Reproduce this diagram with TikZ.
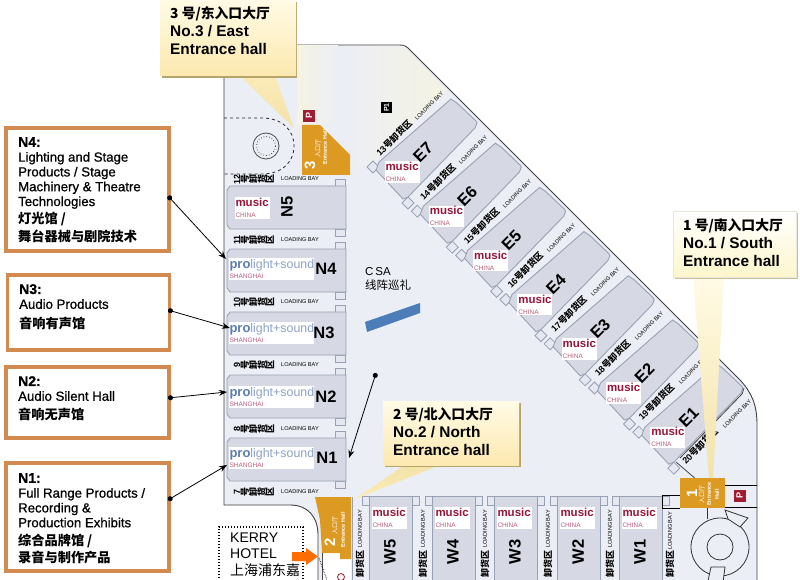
\documentclass[tikz,border=0pt]{standalone}
\usepackage{fontspec}
\setmainfont{Liberation Sans}
\newfontfamily\cjk{Noto Sans CJK SC}
\newfontfamily\boxfont{Liberation Sans}[FakeBold=0.8]
\usetikzlibrary{arrows.meta}

\definecolor{floorgrey}{HTML}{ECEEF5}
\definecolor{floorsun}{HTML}{F5F3E3}
\definecolor{hallgrey}{HTML}{D6D9E4}
\definecolor{halledge}{HTML}{98A1B3}
\definecolor{gateorange}{HTML}{DC9A22}
\definecolor{boxorange}{HTML}{D28A50}
\definecolor{parkred}{HTML}{A01C30}
\definecolor{musicred}{HTML}{96163A}
\definecolor{chinapink}{HTML}{B85C7C}
\definecolor{problue}{HTML}{5C7DB2}
\definecolor{lightblue}{HTML}{8CA2C6}
\definecolor{barblue}{HTML}{4C7DB8}
\definecolor{calltop}{HTML}{FFFBE6}
\definecolor{callbottom}{HTML}{FDE9B0}
\definecolor{callpale}{HTML}{FDF6CC}
\definecolor{callshadow}{HTML}{B5A56A}
\definecolor{tailtop}{HTML}{FBEBB8}
\definecolor{tailbottom}{HTML}{F3E2A8}

\newcommand{\musiclabel}{{\color{musicred}\bfseries\fontsize{11.5}{11}\selectfont music}\\[-1pt]{\color{chinapink}\fontsize{6.5}{7}\selectfont CHINA}}
\newcommand{\prolabel}{{\color{problue}\bfseries\fontsize{13}{13}\selectfont pro}{\color{lightblue}\fontsize{12.4}{13}\selectfont light+sound}\\[-2pt]{\color{chinapink}\fontsize{6.5}{7}\selectfont SHANGHAI}}
\newcommand{\sideways}[1]{\rotatebox[origin=c]{90}{#1}}
\newcommand{\bayrow}[1]{\sideways{#1}\hspace{0.5pt}\sideways{\cjk 号}\sideways{\cjk 卸}\sideways{\cjk 货}\sideways{\cjk 区}}
\newcommand{\callhead}[1]{{\fontsize{13.8}{18}\selectfont\cjk\bfseries #1}}

\tikzset{
	hallbody/.style = {fill=hallgrey, draw=halledge, line width=0.9pt},
	hallnotch/.style = {fill=floorgrey!70!hallgrey, draw=halledge, line width=0.8pt},
	halllabel/.style = {font=\bfseries\fontsize{16.5}{16.5}\selectfont, inner sep=0pt},
	musictag/.style = {fill=white, align=left, text width=33pt, inner sep=1pt},
	protag/.style = {fill=white, align=left, text width=83pt, inner sep=1pt},
	baytext/.style = {font=\bfseries\fontsize{9}{9}\selectfont, inner sep=0pt},
	bayenglish/.style = {font=\fontsize{5.6}{6}\selectfont, inner sep=0pt},
	gatetext/.style = {text=white, rotate=90, inner sep=0pt, font=\fontsize{6}{6}\selectfont},
	topicbox/.style = {draw=boxorange, line width=3.4pt, fill=white, inner sep=0pt},
	topictext/.style = {anchor=north west, align=left, inner sep=0pt, font=\boxfont\fontsize{13.2}{14.8}\selectfont},
	callouttext/.style = {anchor=north west, align=left, inner sep=0pt, font=\bfseries\fontsize{15.4}{18}\selectfont},
	linkline/.style = {line width=0.8pt, {Circle[length=5pt]}-{Stealth[length=8pt,width=6pt]}},
	parkbox/.style = {fill=parkred, text=white, inner sep=0pt, minimum size=12pt, rotate=90, font=\bfseries\fontsize{9}{9}\selectfont}
}

\begin{document}
\begin{tikzpicture}[x=1pt,y=-1pt]
	\useasboundingbox (0,0) rectangle (800,580);
	\clip (0,0) rectangle (800,580);
	\fill[white] (0,0) rectangle (800,580);
	
	% floor
	\draw[fill=floorgrey, draw=black!75, line width=0.9pt] (224,45) -- (400,45) .. controls (405,45) and (407,47) .. (410,50) -- (740,380) .. controls (752,393) and (757,405) .. (757,425) -- (757,590) -- (318,590) -- (318,535) .. controls (318,517) and (308,505) .. (290,505) -- (224,505) -- cycle;
	\shade[left color=floorgrey, right color=floorsun] (345,170) -- (345,46) -- (404,46) -- (446,90) -- (372,165) -- cycle;
	\shade[left color=floorsun, right color=floorgrey] (297,46) -- (338,46) -- (338,125) -- (297,125) -- cycle;
	
	% north halls
	\foreach \yy/\hall in {186/N5,249/N4,312/N3,375/N2,438/N1}{
		\draw[hallnotch] (335,\yy-7) rectangle (345,\yy);
		\draw[hallnotch] (335,\yy+43) rectangle (345,\yy+50);
		\draw[hallbody] (230,\yy) -- (227,\yy+4) -- (227,\yy+39) -- (230,\yy+43) -- (346,\yy+43) -- (346,\yy) -- cycle;
	}
	\node[musictag] (musicN5) at (252,208) {\musiclabel};
	\node[halllabel, rotate=90] (labelN5) at (287,207) {N5};
	\foreach \yy/\hall/\xx in {269/N4/326,333/N3/324,397/N2/326,458/N1/327}{
		\node[protag] (pro\hall) at (271,\yy) {\prolabel};
		\node[halllabel] (label\hall) at (\xx,\yy) {\hall};
	}
	\foreach \yy/\bay in {179/12,240/11,302/10,365/9,429/8,492/7}{
		\node[baytext] (row\bay) at (254,\yy) {\bayrow{\bay}};
		\node[bayenglish, anchor=west] (load\bay) at (281,\yy) {LOADING BAY};
	}
	
	% east halls
	\foreach \nn/\hall in {0/E7,1/E6,2/E5,3/E4,4/E3,5/E2,6/E1}{
		\begin{scope}[shift={({44.3*\nn},{44.2*\nn})}]
			\draw[hallnotch] (373,161) -- (379,167) -- (373,173) -- (367,167) -- cycle;
			\draw[hallnotch] (408,197) -- (414,203) -- (408,209) -- (402,203) -- cycle;
			\draw[hallbody] (376,170) -- (403,199) -- (408,197) -- (475,128) -- (477,123) -- (476,121) -- (457,103) -- (451,99) -- (379,162) -- cycle;
			\node[musictag] (music\hall) at (402,172) {\musiclabel};
			\node[halllabel, rotate=45] (label\hall) at (423,152) {\hall};
		\end{scope}
	}
	\foreach \nn [evaluate=\nn as \bay using int(13+\nn)] in {0,...,7}{
		\node[baytext, rotate=45] (row\bay) at ({394+43.7*\nn},{138+44*\nn}) {\bay{\cjk\bfseries 号卸货区}};
		\node[bayenglish, rotate=45] (load\bay) at ({429+44*\nn},{106+44*\nn}) {LOADING BAY};
	}
	\draw[black!75, line width=0.8pt] (676,462) -- (697,480);
	\draw[black!75, line width=0.8pt] (680,458) -- (742,394) -- (744,388);
	
	% west halls
	\foreach \xx/\hall in {369/W5,432/W4,494/W3,557/W2,619/W1}{
		\draw[hallnotch] (\xx-7,496) rectangle (\xx,505);
		\draw[hallnotch] (\xx+43,496) rectangle (\xx+50,505);
		\draw[hallbody] (\xx,496) rectangle (\xx+43,590);
		\node[musictag, text width=33pt] (music\hall) at (\xx+20,518) {\musiclabel};
		\node[halllabel, rotate=90] (label\hall) at (\xx+21,552) {\hall};
		\node[bayenglish, rotate=90] (load\hall) at (\xx-9,529) {LOADING BAY};
		\node[baytext, rotate=90] (row\hall) at (\xx-9,564) {\cjk\bfseries 卸货区};
	}
	\node[bayenglish, rotate=90] (loadlast) at (670,531) {LOADING BAY};
	\node[baytext, rotate=90] (rowlast) at (670,564) {\cjk\bfseries 卸货区};
	\draw[halledge, line width=0.9pt] (352,497) -- (352,590);
	
	% csa
	\fill[barblue] (365,322) -- (420,303) -- (420,313) -- (367,332) -- cycle;
	\node[anchor=west, inner sep=0pt, font=\fontsize{11.5}{11}\selectfont] (csaname) at (365,272) {C\,SA};
	\node[anchor=west, inner sep=0pt, font=\cjk\fontsize{11.5}{11}\selectfont] (csatext) at (365,285) {线阵巡礼};
	
	% east entrance
	\draw[black!85, dashed, line width=0.8pt] (224,118) -- (262,118) .. controls (282,118) and (294,130) .. (294,146) .. controls (294,162) and (282,174) .. (262,174) -- (224,174);
	\draw[black!70, fill=floorgrey, line width=0.8pt] (266,146) circle (13);
	\draw[black!70, dotted, line width=0.8pt] (266,146) circle (9.5);
	\fill[gateorange] (302,125) -- (320,125) -- (350,155) -- (350,175) -- (302,175) -- cycle;
	\node[gatetext, font=\bfseries\fontsize{15}{15}\selectfont] (gate3num) at (310,165) {3};
	\node[gatetext] (gate3cn) at (318,149) {\cjk 入口厅};
	\node[gatetext, font=\bfseries\fontsize{5.5}{6}\selectfont] (gate3en) at (325,147) {Entrance Hall};
	\node[parkbox] (park3) at (309,116) {P};
	\node[parkbox, fill=black, minimum size=11.5pt, font=\bfseries\fontsize{7}{7}\selectfont] (parkone) at (386.5,107.5) {P1};
	
	% north entrance
	\fill[white] (322,553) rectangle (351,590);
	\draw[black!70, line width=0.7pt] (322,520) -- (322,590);
	\fill[gateorange] (315,497) -- (351,497) -- (351,559) -- (340,559) -- (340,553) -- (322,553) -- (320,520) -- cycle;
	\node[gatetext, font=\bfseries\fontsize{15}{15}\selectfont] (gate2num) at (330,542) {2};
	\node[gatetext] (gate2cn) at (335,525) {\cjk 入口厅};
	\node[gatetext, font=\bfseries\fontsize{5.5}{6}\selectfont] (gate2en) at (343,530) {Entrance Hall};
	\draw[parkred, line width=0.8pt] (341,577) circle (3.5);
	\draw[black, densely dotted, line width=0.7pt] (319,558) -- (327,580);
	
	% hotel
	\draw[black, dash pattern=on 1.4pt off 1.6pt, line width=1.3pt] (219,590) -- (219,527) -- (303,527) -- (303,590);
	\node[anchor=west, inner sep=0pt, font=\fontsize{14}{14}\selectfont] (hotelone) at (230,538) {KERRY};
	\node[anchor=west, inner sep=0pt, font=\fontsize{14}{14}\selectfont] (hoteltwo) at (230,554) {HOTEL};
	\node[anchor=west, inner sep=0pt, font=\cjk\fontsize{14}{14}\selectfont] (hotelthree) at (230,570) {上海浦东嘉};
	\fill[orange!85!red] (292,552) -- (306,552) -- (306,548) -- (318,556.5) -- (306,565) -- (306,561) -- (292,561) -- cycle;
	
	% south entrance
	\draw[black, line width=0.8pt] (725,485) -- (757,485);
	\draw[black, line width=0.8pt] (725,507) -- (757,507);
	\draw[black, line width=0.8pt] (680,495) -- (662,495) -- (662,508) -- (680,508);
	\draw[black!80, line width=0.8pt] (720,547) circle (29);
	\draw[black!80, line width=0.8pt] (720,547) circle (13);
	\draw[black!80, line width=0.8pt] (707,508) -- (707,519);
	\draw[black!80, fill=floorgrey, line width=0.8pt] (725,510) -- (748,518) -- (740,527) -- (728,519) -- cycle;
	\draw[black!80, fill=floorgrey, line width=0.8pt] (711,567) -- (725,567) -- (722,590) -- (706,590) -- cycle;
	\fill[gateorange] (680,478) rectangle (725,508);
	\node[gatetext, font=\bfseries\fontsize{15}{15}\selectfont] (gate1num) at (692,493) {1};
	\node[gatetext] (gate1cn) at (702,494) {\cjk 入口厅};
	\node[gatetext, font=\bfseries\fontsize{5.5}{6}\selectfont] (gate1en) at (709,494) {Entrance};
	\node[gatetext, font=\bfseries\fontsize{5.5}{6}\selectfont] (gate1hall) at (717,494) {Hall};
	\node[parkbox] (park1) at (739.5,495.5) {P};
	
	% callouts
	\shade[top color=tailtop, bottom color=tailbottom] (240,76) -- (275,76) -- (294,128) -- cycle;
	\fill[callshadow] (162,2) rectangle (297,78);
	\shade[top color=calltop, bottom color=callbottom] (160,-2) rectangle (296,76);
	\node[callouttext] (call3) at (170,6) {\callhead{3 号/东入口大厅}\\No.3 / East\\Entrance hall};
	
	\shade[top color=tailbottom, bottom color=tailtop] (405,465) -- (440,465) -- (353,500) -- cycle;
	\fill[callshadow] (385,403) rectangle (521,467);
	\shade[top color=calltop, bottom color=callbottom] (383,401) rectangle (519,465);
	\node[callouttext] (call2) at (393,407) {\callhead{2 号/北入口大厅}\\No.2 / North\\Entrance hall};
	
	\shade[top color=calltop, bottom color=tailbottom] (693,277) -- (724,277) -- (713,478) -- (709,478) -- cycle;
	\fill[callshadow!70] (675,213) rectangle (798,279);
	\shade[top color=white, bottom color=callpale, draw=yellow!30!black!15] (673,211) rectangle (796,277);
	\node[callouttext] (call1) at (683,218) {\callhead{1 号/南入口大厅}\\No.1 / South\\Entrance hall};
	
	% topic boxes
	\node[topicbox, minimum width=163pt, minimum height=123pt] (boxN4) at (87.5,189.5) {};
	\node[topictext] (textN4) at (18,137) {{\bfseries\fontsize{14}{14}\selectfont N4:}\\Lighting and Stage\\Products / Stage\\Machinery \& Theatre\\Technologies\\[3pt]{\cjk\bfseries 灯光馆 /}\\[3pt]{\cjk\bfseries 舞台器械与剧院技术}};
	\node[topicbox, minimum width=162pt, minimum height=75pt] (boxN3) at (88.5,312.5) {};
	\node[topictext] (textN3) at (19,284) {{\bfseries\fontsize{14}{14}\selectfont N3:}\\Audio Products\\[5pt]{\cjk\bfseries 音响有声馆}};
	\node[topicbox, minimum width=163pt, minimum height=71pt] (boxN2) at (87.5,402.5) {};
	\node[topictext] (textN2) at (18,376) {{\bfseries\fontsize{14}{14}\selectfont N2:}\\Audio Silent Hall\\[4pt]{\cjk\bfseries 音响无声馆}};
	\node[topicbox, minimum width=163pt, minimum height=108pt] (boxN1) at (87.5,517) {};
	\node[topictext] (textN1) at (18,473) {{\bfseries\fontsize{14}{14}\selectfont N1:}\\Full Range Products /\\Recording \&\\Production Exhibits\\[3pt]{\cjk\bfseries 综合品牌馆 /}\\[3pt]{\cjk\bfseries 录音与制作产品}};
	
	% links
	\coordinate (outN4) at (168,196);
	\coordinate (inN4) at (226,259);
	\coordinate (outN3) at (168,310);
	\coordinate (inN3) at (230,328);
	\coordinate (outN2) at (168,398);
	\coordinate (inN2) at (227,392);
	\coordinate (outN1) at (168,500);
	\coordinate (inN1) at (227,465);
	\coordinate (outCSA) at (376,373);
	\coordinate (inCSA) at (349,458);
	\foreach \hall in {N4,N3,N2,N1,CSA}{
		\draw[linkline] (out\hall) -- (in\hall);
	}
\end{tikzpicture}
\end{document}
